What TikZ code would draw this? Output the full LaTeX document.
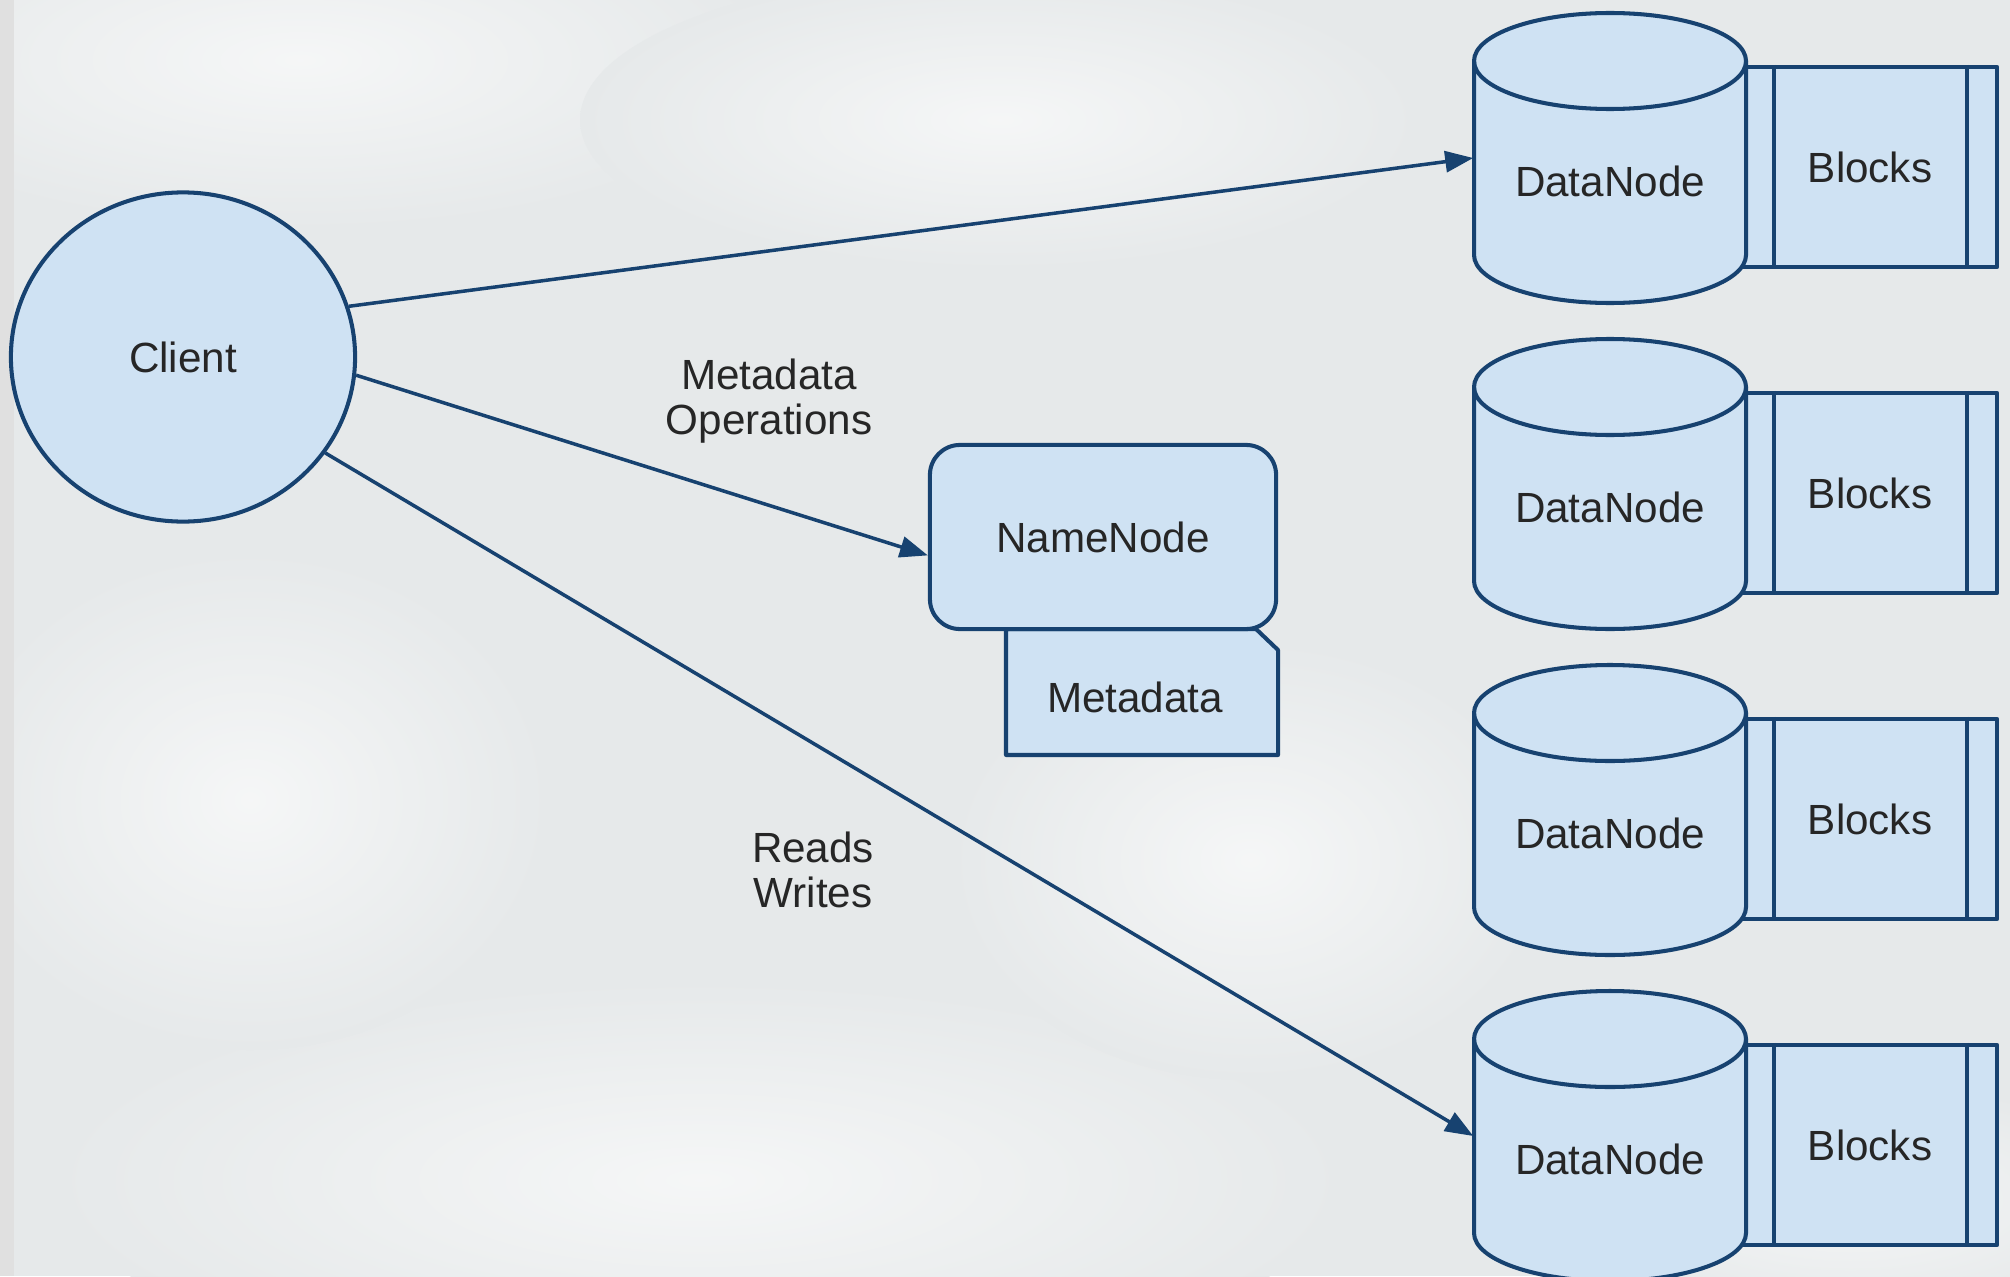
\documentclass[tikz,border=0pt]{standalone}
\usepackage{fontspec}
\setmainfont{Liberation Sans}
\usetikzlibrary{arrows.meta,shapes.geometric}

\definecolor{hdfsfill}{HTML}{CFE2F3}
\definecolor{hdfsline}{HTML}{174270}
\definecolor{hdfsbg}{HTML}{E6E9EA}

\begin{document}
\begin{tikzpicture}[x=0.01cm, y=0.01cm,
        every node/.style={font=\fontsize{12}{12.8}\selectfont, text=black!85},
        hdfsbox/.style={draw=hdfsline, fill=hdfsfill, line width=1.15pt, line join=round},
        link/.style={draw=hdfsline, line width=1pt, -{Triangle[length=0.28cm, width=0.21cm]}},
        cloud/.style={inner color=white!60!hdfsbg, outer color=hdfsbg}]
        % backdrop
        \useasboundingbox (0,0) rectangle (2010,-1276);
        \begin{scope}
            \clip (0,0) rectangle (2010,-1276);
            \fill[hdfsbg] (0,0) rectangle (2010,-1276);
            \foreach \cx/\cy/\rx/\ry in {300/-60/480/170, 1000/-120/420/150, 700/-1180/650/200,
                    1250/-860/300/220, 250/-800/300/250, 1850/-1200/300/120} {
                \shade[cloud] (\cx,\cy) ellipse[x radius=\rx, y radius=\ry];
            }
            \fill[black!12] (0,0) rectangle (14,-1276);
        \end{scope}

        % client, name node and its metadata
        \node[hdfsbox, ellipse, inner sep=0, minimum width=3.44cm, minimum height=3.29cm] (client) at (183,-357) {Client};
        \path[hdfsbox] (1006,-629) -- (1006,-755) -- (1278,-755) -- (1278,-650) -- (1256,-629) -- cycle;
        \node (meta) at (1135,-697) {Metadata};
        \node[hdfsbox, rounded corners=0.3cm, minimum width=3.46cm, minimum height=1.84cm] (namenode) at (1103,-537) {NameNode};

        % data nodes with their blocks
        \foreach \i/\ty in {1/13, 2/339, 3/665, 4/991} {
            \node[hdfsbox, inner sep=0, minimum width=2.54cm, minimum height=2cm] (blk\i) at (1870,-\ty-154) {Blocks};
            \draw[hdfsline, line width=1.15pt] ([xshift=0.33cm]blk\i.north west) -- ([xshift=0.33cm]blk\i.south west)
                ([xshift=-0.32cm]blk\i.north east) -- ([xshift=-0.32cm]blk\i.south east);
            \path[hdfsbox] (1474,-\ty-48) -- (1474,-\ty-242) arc[start angle=180, end angle=360, x radius=136, y radius=48]
                -- (1746,-\ty-48) arc[start angle=0, end angle=180, x radius=136, y radius=48] -- cycle;
            \draw[hdfsline, line width=1.15pt] (1474,-\ty-48) arc[start angle=180, end angle=360, x radius=136, y radius=48];
            \node[inner sep=0, minimum width=2.72cm, minimum height=2.9cm,
                label={[yshift=-0.23cm]center:DataNode}] (dn\i) at (1610,-\ty-145) {};
        }

        % connectors
        \draw[link] (client.17) -- (dn1.west);
        \draw[link] (client.-6) -- (namenode.186);
        \draw[link] (client.-34) -- (dn4.west);
        \node[align=center] (opslabel) at (769,-401) {Metadata\\Operations};
        \node[align=center] (rwlabel) at (813,-870) {Reads\\Writes};
    \end{tikzpicture}
\end{document}
